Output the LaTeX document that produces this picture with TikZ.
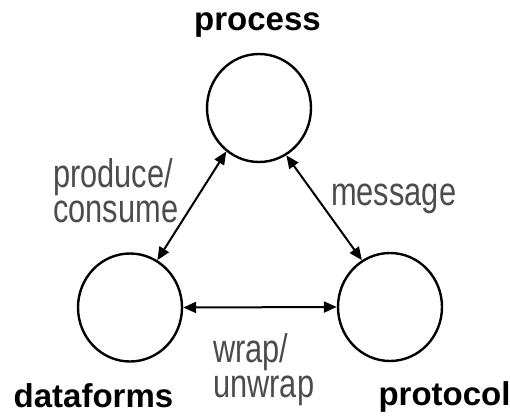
\documentclass[tikz,border=0pt]{standalone}
\usepackage{fontspec}
\setmainfont{Liberation Sans}
\newfontfamily\edgefont{Liberation Sans}[FakeStretch=0.77]
\usetikzlibrary{arrows.meta,shapes.geometric}

\tikzset{
  stage/.style={ellipse, draw, line width=2.4pt, inner sep=0pt,
    minimum width=104pt, minimum height=108pt},
  title/.style={font=\fontsize{33}{38}\selectfont\bfseries, inner sep=0pt, anchor=base},
  edgelabel/.style={font=\edgefont\fontsize{40}{35}\selectfont, text=black!70,
    inner sep=0pt, align=left, anchor=base west},
  link/.style={line width=2pt, {Triangle[length=13pt,width=11pt]}-{Triangle[length=13pt,width=11pt]}}
}

\begin{document}
\begin{tikzpicture}[x=1pt, y=-1pt]
  \useasboundingbox (0,0) rectangle (510,415);

  % the three stages
  \node[stage] (process)   at (259,108)   {};
  \node[stage] (dataforms) at (130,307.5) {};
  \node[stage] (protocol)  at (390,307)   {};

  % stage titles
  \node[title] (tprocess)   at (257.5,30) {process};
  \node[title] (tdataforms) at (93.5,407) {dataforms};
  \node[title] (tprotocol)  at (444.5,405) {protocol};

  % connections between stages
  \draw[link] (process.233.5) -- (dataforms.60.4);
  \draw[link] (process.300.8) -- (protocol.121.9);
  \draw[link] (dataforms.east) -- (protocol.west);

  % connection labels (anchored on the baseline of the last line)
  \node[edgelabel] (lproduce) at (53,222) {produce/\\consume};
  \node[edgelabel] (lmessage) at (331,205) {message};
  \node[edgelabel] (lwrap)    at (213,397) {wrap/\\unwrap};
\end{tikzpicture}
\end{document}
